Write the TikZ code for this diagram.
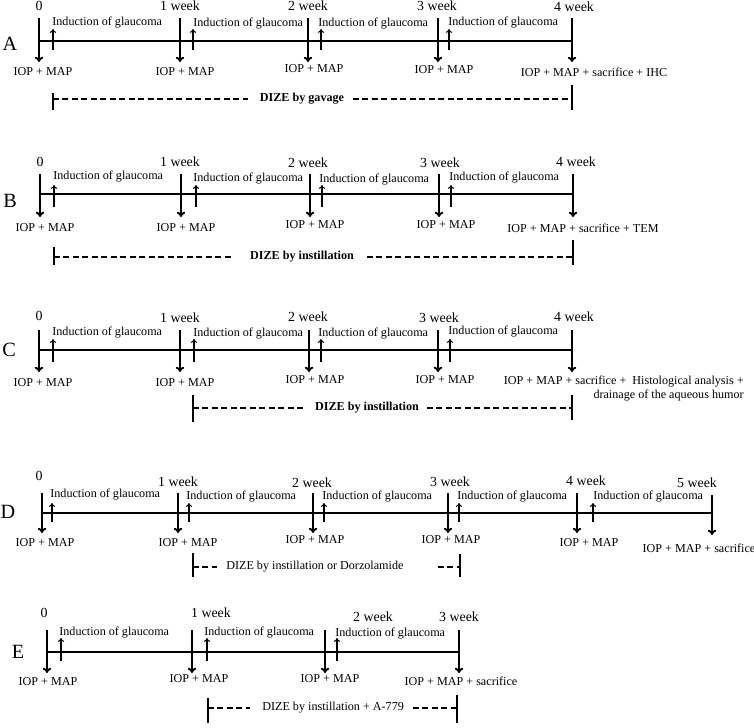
\documentclass[tikz,border=0pt]{standalone}
\usepackage{fontspec}
\setmainfont{Liberation Serif}
\usetikzlibrary{arrows.meta}
\tikzset{
  axis/.style={black,line width=1.1pt},
  meas/.style={black,line width=1.1pt,-{To[length=3pt,width=4.8pt]}},
  induct/.style={black,line width=0.6pt,-{To[length=2.2pt,width=3.6pt]}},
  dize/.style={black,line width=1.1pt,dash pattern=on 3.4pt off 2pt},
  endbar/.style={black,line width=1.1pt},
  lbl/.style={font=\fontsize{6.9}{8}\selectfont,inner sep=0pt,text=black},
  wk/.style={font=\fontsize{7.9}{9}\selectfont,inner sep=0pt,text=black},
  panel/.style={font=\fontsize{11.5}{13}\selectfont,inner sep=0pt,text=black}
}
\begin{document}
\begin{tikzpicture}[x=0.02cm,y=-0.02cm]
\useasboundingbox (0,0) rectangle (754,727);

% A
\node[panel] (pA) at (10,44) {A};
\draw[axis] (39,41) -- (572,41);
\draw[meas] (39,18) -- (39,62);
\draw[meas] (180,18) -- (180,62);
\draw[meas] (308,18) -- (308,62);
\draw[meas] (438,18) -- (438,62);
\draw[meas] (572,18) -- (572,62);
\draw[induct] (53,50) -- (53,29);
\draw[induct] (193,50) -- (193,29);
\draw[induct] (321,50) -- (321,29);
\draw[induct] (449,50) -- (449,29);
\node[wk] (wA0) at (39,6) {0};
\node[wk] (wA1) at (180,6) {1 week};
\node[wk] (wA2) at (308,6) {2 week};
\node[wk] (wA3) at (437,6) {3 week};
\node[wk] (wA4) at (574,7) {4 week};
\node[lbl,anchor=west] (iA0) at (52,23) {Induction of glaucoma};
\node[lbl,anchor=west] (iA1) at (193,24) {Induction of glaucoma};
\node[lbl,anchor=west] (iA2) at (318,24) {Induction of glaucoma};
\node[lbl,anchor=west] (iA3) at (448,23) {Induction of glaucoma};
\node[lbl] (mA0) at (43,72) {IOP + MAP};
\node[lbl] (mA1) at (185,72) {IOP + MAP};
\node[lbl] (mA2) at (314,69) {IOP + MAP};
\node[lbl] (mA3) at (444,70) {IOP + MAP};
\node[lbl] (mA4) at (594,72) {IOP + MAP + sacrifice + IHC};
\draw[endbar] (53,93) -- (53,110);
\draw[dize] (53,99) -- (248,99);
\node[lbl,font=\fontsize{6.9}{8}\selectfont\bfseries] (dA) at (302,99) {DIZE by gavage};
\draw[dize] (353,99) -- (572,99);
\draw[endbar] (572,85) -- (572,110);

% B
\node[panel] (pB) at (10,201) {B};
\draw[axis] (40,194) -- (573,194);
\draw[meas] (40,174) -- (40,217);
\draw[meas] (181,174) -- (181,217);
\draw[meas] (310,174) -- (310,217);
\draw[meas] (439,174) -- (439,217);
\draw[meas] (573,174) -- (573,217);
\draw[induct] (54,207) -- (54,185);
\draw[induct] (196,207) -- (196,185);
\draw[induct] (322,207) -- (322,185);
\draw[induct] (451,207) -- (451,185);
\node[wk] (wB0) at (40,162) {0};
\node[wk] (wB1) at (180,162) {1 week};
\node[wk] (wB2) at (308,163) {2 week};
\node[wk] (wB3) at (440,163) {3 week};
\node[wk] (wB4) at (576,162) {4 week};
\node[lbl,anchor=west] (iB0) at (53,177) {Induction of glaucoma};
\node[lbl,anchor=west] (iB1) at (193,179) {Induction of glaucoma};
\node[lbl,anchor=west] (iB2) at (319,180) {Induction of glaucoma};
\node[lbl,anchor=west] (iB3) at (449,178) {Induction of glaucoma};
\node[lbl] (mB0) at (45,228) {IOP + MAP};
\node[lbl] (mB1) at (186,228) {IOP + MAP};
\node[lbl] (mB2) at (315,225) {IOP + MAP};
\node[lbl] (mB3) at (446,225) {IOP + MAP};
\node[lbl] (mB4) at (583,228) {IOP + MAP + sacrifice + TEM};
\draw[endbar] (54,247) -- (54,265);
\draw[dize] (54,257) -- (233,257);
\node[lbl,font=\fontsize{6.9}{8}\selectfont\bfseries] (dB) at (302,257) {DIZE by instillation};
\draw[dize] (367,257) -- (573,257);
\draw[endbar] (573,240) -- (573,265);

% C
\node[panel] (pC) at (9,350) {C};
\draw[axis] (39,350) -- (572,350);
\draw[meas] (39,330) -- (39,372);
\draw[meas] (180,330) -- (180,372);
\draw[meas] (309,330) -- (309,372);
\draw[meas] (438,330) -- (438,372);
\draw[meas] (572,330) -- (572,372);
\draw[induct] (53,362) -- (53,339);
\draw[induct] (194,362) -- (194,339);
\draw[induct] (321,362) -- (321,339);
\draw[induct] (450,362) -- (450,339);
\node[wk] (wC0) at (39,316) {0};
\node[wk] (wC1) at (180,318) {1 week};
\node[wk] (wC2) at (308,317) {2 week};
\node[wk] (wC3) at (439,318) {3 week};
\node[wk] (wC4) at (574,317) {4 week};
\node[lbl,anchor=west] (iC0) at (52,333) {Induction of glaucoma};
\node[lbl,anchor=west] (iC1) at (193,334) {Induction of glaucoma};
\node[lbl,anchor=west] (iC2) at (318,334) {Induction of glaucoma};
\node[lbl,anchor=west] (iC3) at (448,332) {Induction of glaucoma};
\node[lbl] (mC0) at (43,383) {IOP + MAP};
\node[lbl] (mC1) at (185,383) {IOP + MAP};
\node[lbl] (mC2) at (315,380) {IOP + MAP};
\node[lbl] (mC3) at (445,380) {IOP + MAP};
\node[lbl,align=right,anchor=east] (mC4) at (744,389) {IOP + MAP + sacrifice + \ Histological analysis +\\drainage of the aqueous humor};
\draw[endbar] (193,395) -- (193,422);
\draw[dize] (193,408) -- (305,408);
\node[lbl,font=\fontsize{6.9}{8}\selectfont\bfseries] (dC) at (367,408) {DIZE by instillation};
\draw[dize] (427,408) -- (572,408);
\draw[endbar] (572,395) -- (572,420);

% D
\node[panel] (pD) at (8,512) {D};
\draw[axis] (42,513) -- (712,513);
\draw[meas] (42,493) -- (42,533);
\draw[meas] (178,493) -- (178,533);
\draw[meas] (313,493) -- (313,533);
\draw[meas] (448,493) -- (448,533);
\draw[meas] (577,493) -- (577,533);
\draw[meas] (712,495) -- (712,535);
\draw[induct] (52,522) -- (52,503);
\draw[induct] (189,522) -- (189,503);
\draw[induct] (324,522) -- (324,503);
\draw[induct] (459,522) -- (459,503);
\draw[induct] (593,522) -- (593,503);
\node[wk] (wD0) at (39,476) {0};
\node[wk] (wD1) at (178,482) {1 week};
\node[wk] (wD2) at (312,483) {2 week};
\node[wk] (wD3) at (450,482) {3 week};
\node[wk] (wD4) at (586,481) {4 week};
\node[wk] (wD5) at (697,483) {5 week};
\node[lbl,anchor=west] (iD0) at (50,495) {Induction of glaucoma};
\node[lbl,anchor=west] (iD1) at (186,497) {Induction of glaucoma};
\node[lbl,anchor=west] (iD2) at (322,497) {Induction of glaucoma};
\node[lbl,anchor=west] (iD3) at (457,497) {Induction of glaucoma};
\node[lbl,anchor=west] (iD4) at (593,497) {Induction of glaucoma};
\node[lbl] (mD0) at (45,543) {IOP + MAP};
\node[lbl] (mD1) at (188,543) {IOP + MAP};
\node[lbl] (mD2) at (315,540) {IOP + MAP};
\node[lbl] (mD3) at (451,540) {IOP + MAP};
\node[lbl] (mD4) at (589,543) {IOP + MAP};
\node[lbl] (mD5) at (699,548) {IOP + MAP + sacrifice};
\draw[endbar] (193,553) -- (193,577);
\draw[dize] (193,567) -- (217,567);
\node[lbl,anchor=west] (dD) at (226,567) {DIZE by instillation or Dorzolamide};
\draw[dize] (438,567) -- (460,567);
\draw[endbar] (460,554) -- (460,577);

% E
\node[panel] (pE) at (18,652) {E};
\draw[axis] (47,652) -- (458,652);
\draw[meas] (47,630) -- (47,673);
\draw[meas] (192,630) -- (192,673);
\draw[meas] (325,630) -- (325,673);
\draw[meas] (459,630) -- (459,673);
\draw[induct] (61,661) -- (61,638);
\draw[induct] (207,661) -- (207,638);
\draw[induct] (337,661) -- (337,638);
\node[wk] (wE0) at (44,613) {0};
\node[wk] (wE1) at (211,613) {1 week};
\node[wk] (wE2) at (373,617) {2 week};
\node[wk] (wE3) at (459,617) {3 week};
\node[lbl,anchor=west] (iE0) at (59,633) {Induction of glaucoma};
\node[lbl,anchor=west] (iE1) at (204,633) {Induction of glaucoma};
\node[lbl,anchor=west] (iE2) at (335,634) {Induction of glaucoma};
\node[lbl] (mE0) at (48,682) {IOP + MAP};
\node[lbl] (mE1) at (199,679) {IOP + MAP};
\node[lbl] (mE2) at (330,679) {IOP + MAP};
\node[lbl] (mE3) at (461,681) {IOP + MAP + sacrifice};
\draw[endbar] (208,698) -- (208,723);
\draw[dize] (208,708) -- (250,708);
\node[lbl,anchor=west] (dE) at (262,708) {DIZE by instillation + A-779};
\draw[dize] (413,708) -- (457,708);
\draw[endbar] (457,695) -- (457,723);

\end{tikzpicture}
\end{document}
